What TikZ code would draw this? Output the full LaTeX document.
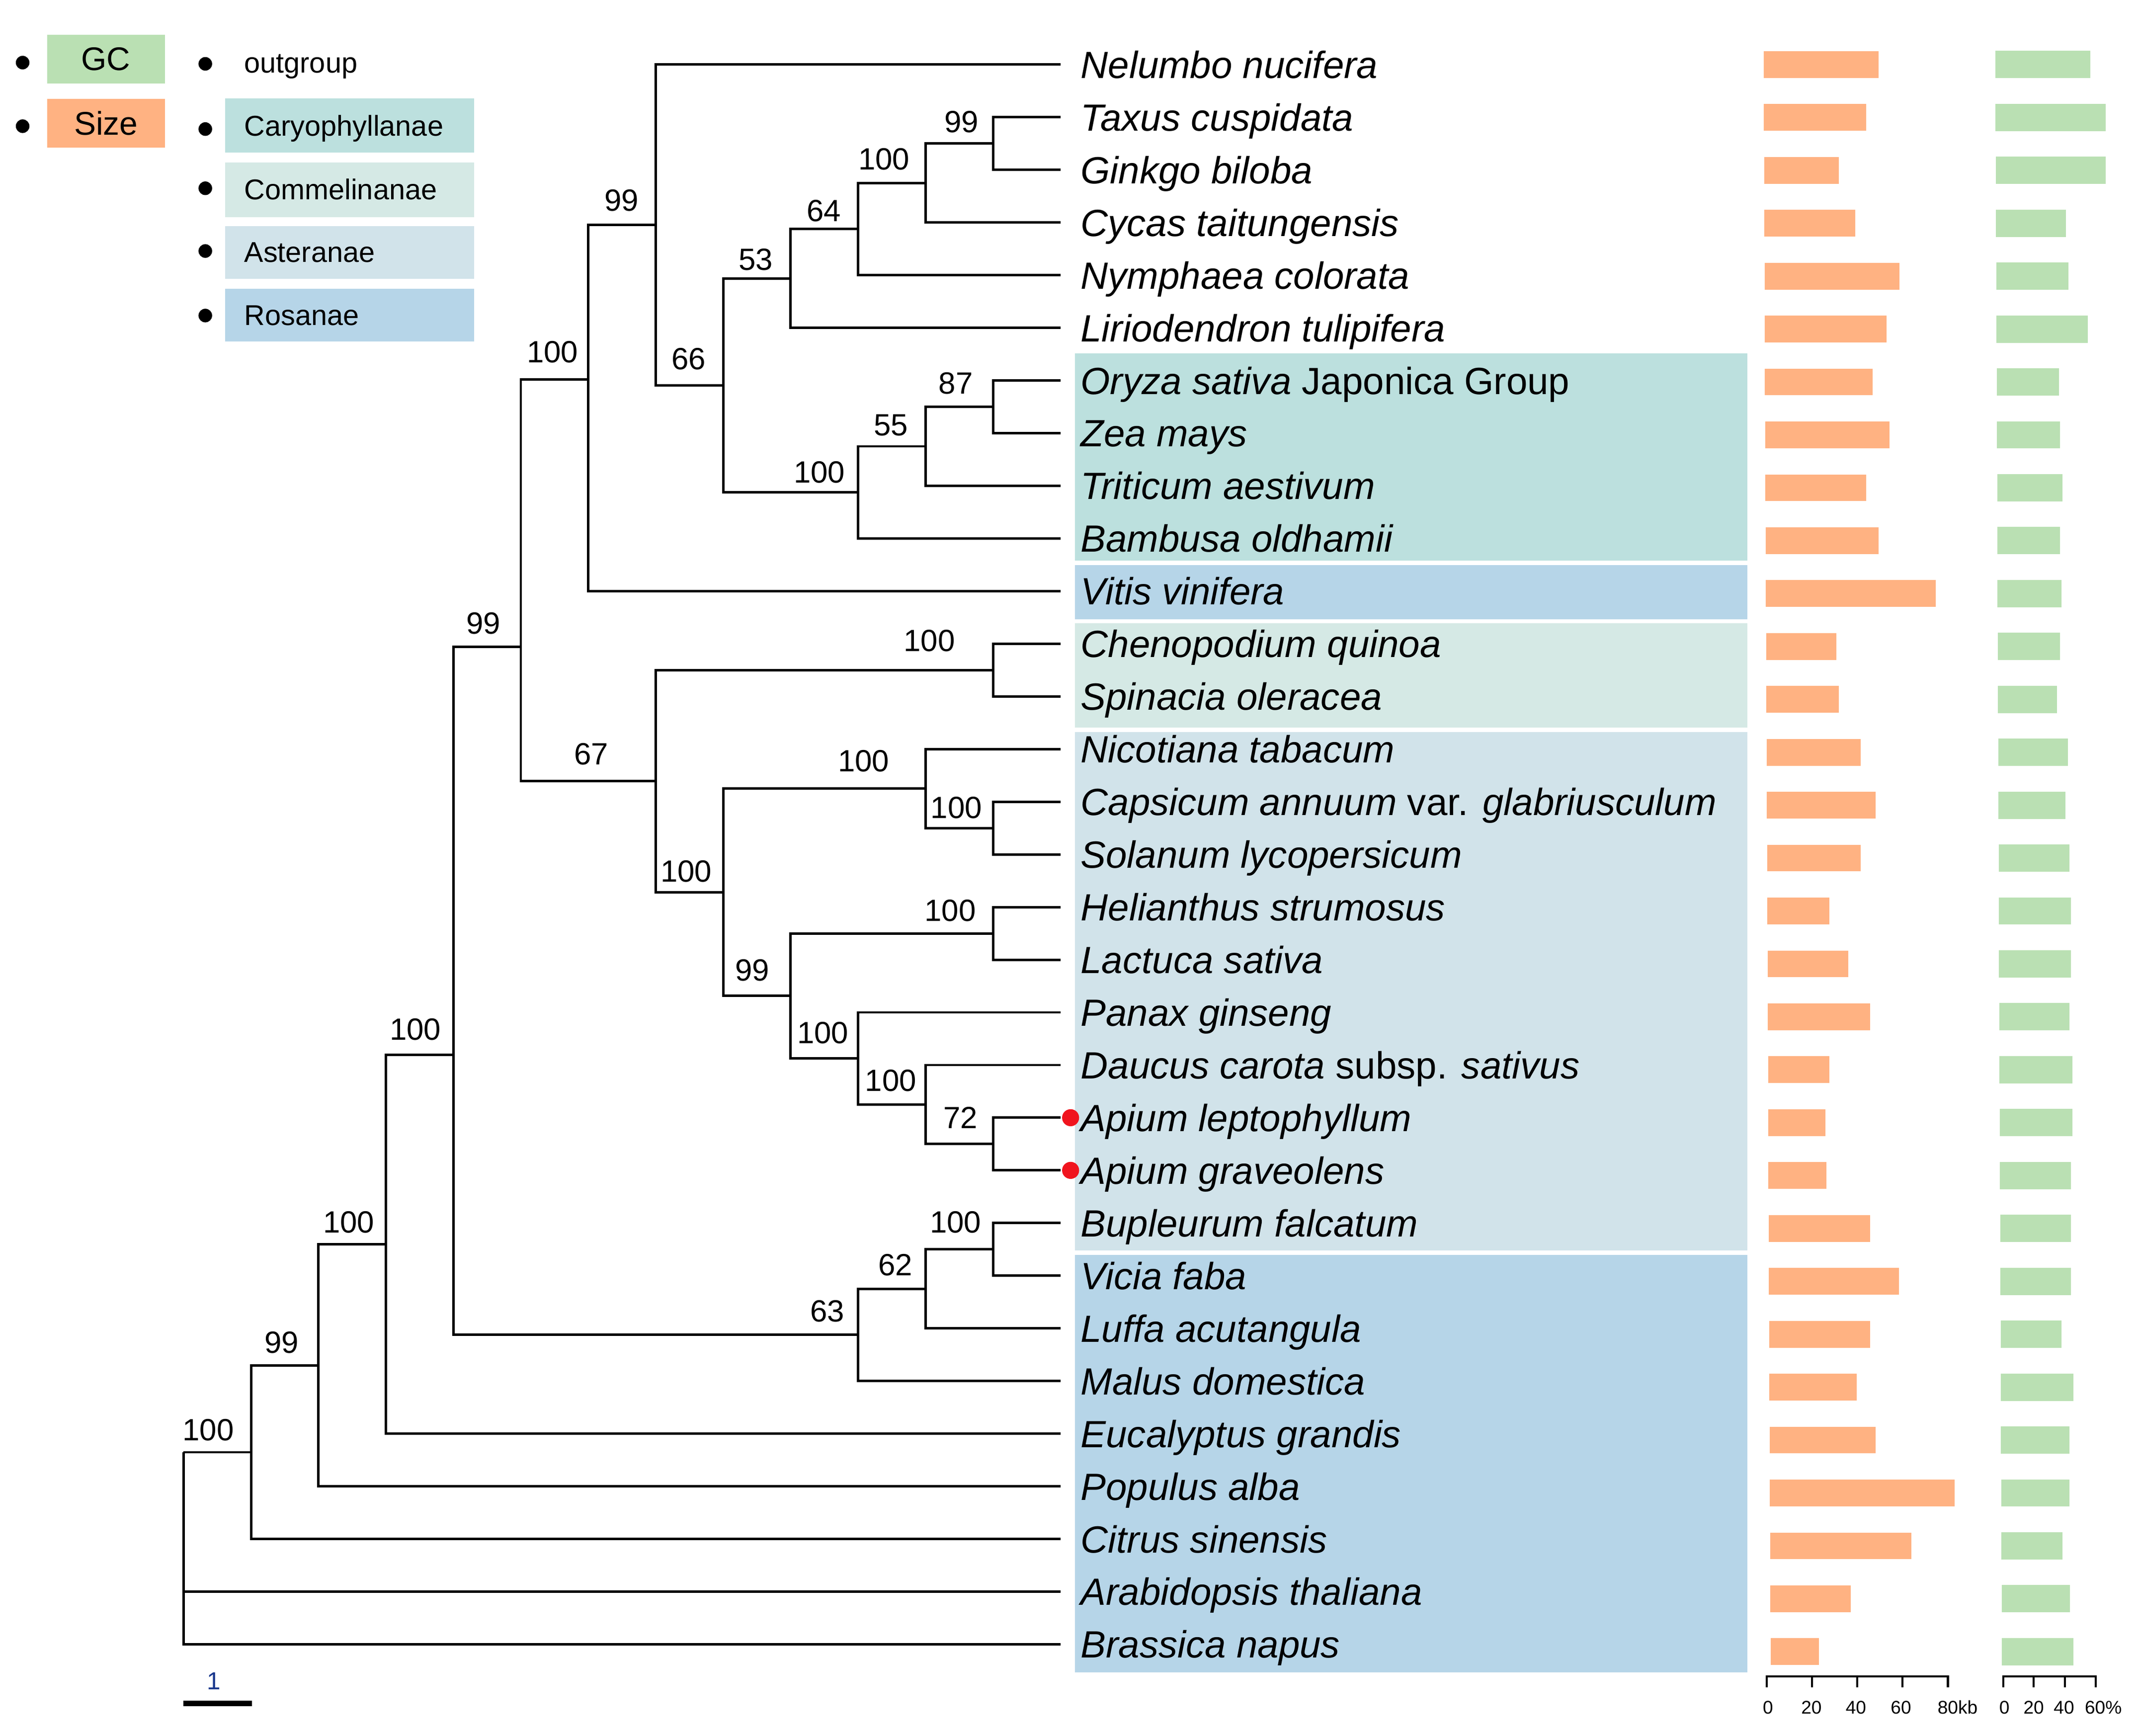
\documentclass[tikz,border=0pt]{standalone}
\usepackage{fontspec}
\setmainfont{Liberation Sans}
\definecolor{gcgreen}{RGB}{186,224,179}
\definecolor{sizeorange}{RGB}{255,178,130}
\definecolor{caryc}{RGB}{188,224,222}
\definecolor{commc}{RGB}{213,233,229}
\definecolor{asterc}{RGB}{209,227,234}
\definecolor{rosc}{RGB}{182,213,232}
\definecolor{dotred}{RGB}{240,20,30}
\definecolor{scaleblue}{RGB}{25,55,140}
\begin{document}
\begin{tikzpicture}[x=1pt,y=-1pt,
  branch/.style={line width=1.8pt, line join=miter, line cap=butt},
  taxon/.style={anchor=base west, inner sep=0pt, font=\fontsize{27.8}{30}\selectfont\itshape},
  boot/.style={anchor=base, inner sep=0pt, font=\fontsize{22.5}{24}\selectfont},
  legtext/.style={anchor=base west, inner sep=0pt, font=\fontsize{21}{23}\selectfont},
  bigleg/.style={inner sep=0pt, font=\fontsize{24}{26}\selectfont},
  bullet/.style={circle, fill=black, inner sep=0pt, minimum size=10pt},
  reddot/.style={circle, fill=dotred, inner sep=0pt, minimum size=12.5pt},
  axislbl/.style={anchor=base, inner sep=0pt, font=\fontsize{13.5}{15}\selectfont},
  axisline/.style={line width=1.5pt, line cap=butt, line join=miter}
]
\useasboundingbox (0,0) rectangle (1568,1272.2);

% ---------- legend ----------
\node[bullet] (bgc) at (16.6,45.9) {};
\node[bullet] (bsz) at (16.6,92.5) {};
\node[bigleg, fill=gcgreen, minimum width=86.3pt, minimum height=35.7pt] (gc) at (77.65,43.35) {GC};
\node[bigleg, fill=sizeorange, minimum width=86.3pt, minimum height=35.8pt] (sz) at (77.65,90.3) {Size};

\node[bullet] (bout) at (150.5,46.8) {};
\node[bullet] (bcar) at (150.5,94.6) {};
\node[bullet] (bcom) at (150.5,138) {};
\node[bullet] (bast) at (150.5,184) {};
\node[bullet] (bros) at (150.5,231.3) {};
\node[legtext] (tout) at (178.9,53.2) {outgroup};
\fill[caryc] (165,72.3) rectangle (347.7,112);
\fill[commc] (165,119.3) rectangle (347.7,159.2);
\fill[asterc] (165,165.6) rectangle (347.7,204.4);
\fill[rosc] (165,211.6) rectangle (347.7,250.4);
\node[legtext] (tcar) at (178.9,99.7) {Caryophyllanae};
\node[legtext] (tcom) at (178.9,146.3) {Commelinanae};
\node[legtext] (tast) at (178.9,192.2) {Asteranae};
\node[legtext] (tros) at (178.9,238.6) {Rosanae};

% ---------- clade bands ----------
\fill[caryc] (788,259) rectangle (1281,411);
\fill[rosc] (788,414.2) rectangle (1281,454);
\fill[commc] (788,457) rectangle (1281,533.3);
\fill[asterc] (788,536.6) rectangle (1281,916.5);
\fill[rosc] (788,920) rectangle (1281,1226);

% ---------- tips ----------
\foreach \i in {1,...,31}{
  \pgfmathsetmacro{\ty}{47.3+(\i-1)*38.6}
  \coordinate (t\i) at (777.4,\ty);
}

% ---------- internal nodes ----------
\coordinate (N0) at (134.5,1064.5);
\coordinate (N1) at (184,1064.5);
\coordinate (N2) at (233.4,1000.85);
\coordinate (N3) at (282.9,912.2);
\coordinate (N4) at (332.3,773.3);
\coordinate (N5) at (381.8,474.3);
\coordinate (N6) at (431.2,278);
\coordinate (N7) at (480.7,164.9);
\coordinate (N8) at (530.1,282.5);
\coordinate (N9) at (579.6,204.1);
\coordinate (N10) at (629,167.9);
\coordinate (N11) at (678.5,134.15);
\coordinate (N12) at (727.9,105.2);
\coordinate (NP) at (629,360.9);
\coordinate (NP2) at (678.5,327.15);
\coordinate (NP3) at (727.9,298.2);
\coordinate (NA) at (480.7,572.6);
\coordinate (NC) at (727.9,491.2);
\coordinate (NA2) at (530.1,654.05);
\coordinate (NS) at (678.5,578.05);
\coordinate (NS2) at (727.9,607);
\coordinate (NA3) at (579.6,730.05);
\coordinate (NH) at (727.9,684.2);
\coordinate (NAp) at (629,775.9);
\coordinate (NAp2) at (678.5,809.65);
\coordinate (NAp3) at (727.9,838.6);
\coordinate (NR) at (629,978.5);
\coordinate (NR2) at (678.5,944.75);
\coordinate (NB) at (727.9,915.8);

% ---------- branches ----------
\draw[branch] (N0) |- (N1);   \draw[branch] (N0) |- (t30);  \draw[branch] (N0) |- (t31);
\draw[branch] (N1) |- (N2);   \draw[branch] (N1) |- (t29);
\draw[branch] (N2) |- (N3);   \draw[branch] (N2) |- (t28);
\draw[branch] (N3) |- (N4);   \draw[branch] (N3) |- (t27);
\draw[branch] (N4) |- (N5);   \draw[branch] (N4) |- (NR);
\draw[branch] (N5) |- (N6);   \draw[branch] (N5) |- (NA);
\draw[branch] (N6) |- (N7);   \draw[branch] (N6) |- (t11);
\draw[branch] (N7) |- (t1);   \draw[branch] (N7) |- (N8);
\draw[branch] (N8) |- (N9);   \draw[branch] (N8) |- (NP);
\draw[branch] (N9) |- (N10);  \draw[branch] (N9) |- (t6);
\draw[branch] (N10) |- (N11); \draw[branch] (N10) |- (t5);
\draw[branch] (N11) |- (N12); \draw[branch] (N11) |- (t4);
\draw[branch] (N12) |- (t2);  \draw[branch] (N12) |- (t3);
\draw[branch] (NP) |- (NP2);  \draw[branch] (NP) |- (t10);
\draw[branch] (NP2) |- (NP3); \draw[branch] (NP2) |- (t9);
\draw[branch] (NP3) |- (t7);  \draw[branch] (NP3) |- (t8);
\draw[branch] (NA) |- (NC);   \draw[branch] (NA) |- (NA2);
\draw[branch] (NC) |- (t12);  \draw[branch] (NC) |- (t13);
\draw[branch] (NA2) |- (NS);  \draw[branch] (NA2) |- (NA3);
\draw[branch] (NS) |- (t14);  \draw[branch] (NS) |- (NS2);
\draw[branch] (NS2) |- (t15); \draw[branch] (NS2) |- (t16);
\draw[branch] (NA3) |- (NH);  \draw[branch] (NA3) |- (NAp);
\draw[branch] (NH) |- (t17);  \draw[branch] (NH) |- (t18);
\draw[branch] (NAp) |- (t19); \draw[branch] (NAp) |- (NAp2);
\draw[branch] (NAp2) |- (t20); \draw[branch] (NAp2) |- (NAp3);
\draw[branch] (NAp3) |- (t21); \draw[branch] (NAp3) |- (t22);
\draw[branch] (NR) |- (NR2);  \draw[branch] (NR) |- (t26);
\draw[branch] (NR2) |- (NB);  \draw[branch] (NR2) |- (t25);
\draw[branch] (NB) |- (t23);  \draw[branch] (NB) |- (t24);

% ---------- bootstrap values ----------
\node[boot] (b1) at (152.7,1055.8) {100};
\node[boot] (b2) at (206.4,991.9) {99};
\node[boot] (b3) at (255.6,903.7) {100};
\node[boot] (b4) at (304.5,762.3) {100};
\node[boot] (b5) at (354.4,464.6) {99};
\node[boot] (b6) at (405,265.8) {100};
\node[boot] (b7) at (455.6,154.6) {99};
\node[boot] (b8) at (504.8,270.9) {66};
\node[boot] (b9) at (554,198.1) {53};
\node[boot] (b10) at (603.9,162.3) {64};
\node[boot] (b11) at (648,124.5) {100};
\node[boot] (b12) at (704.9,97.1) {99};
\node[boot] (bP) at (600.6,354) {100};
\node[boot] (bP2) at (653,319.4) {55};
\node[boot] (bP3) at (700.6,288.8) {87};
\node[boot] (bA) at (433.3,560.4) {67};
\node[boot] (bC) at (681.2,477.4) {100};
\node[boot] (bA2) at (503,646.5) {100};
\node[boot] (bS) at (633,565.5) {100};
\node[boot] (bS2) at (701,600) {100};
\node[boot] (bA3) at (551.5,718.9) {99};
\node[boot] (bH) at (696.5,675.4) {100};
\node[boot] (bAp) at (603.2,764.9) {100};
\node[boot] (bAp2) at (653,800) {100};
\node[boot] (bAp3) at (704,827) {72};
\node[boot] (bB) at (700.4,903.7) {100};
\node[boot] (bR2) at (656.3,934.9) {62};
\node[boot] (bR) at (606.4,968.9) {63};

% ---------- red dots ----------
\node[reddot] (d21) at ([xshift=7.4pt]t21) {};
\node[reddot] (d22) at ([xshift=7.4pt]t22) {};

% ---------- taxon labels ----------
\node[taxon] (L1) at ([xshift=14.6pt,yshift=-10pt]t1) {Nelumbo nucifera};
\node[taxon] (L2) at ([xshift=14.6pt,yshift=-10pt]t2) {Taxus cuspidata};
\node[taxon] (L3) at ([xshift=14.6pt,yshift=-10pt]t3) {Ginkgo biloba};
\node[taxon] (L4) at ([xshift=14.6pt,yshift=-10pt]t4) {Cycas taitungensis};
\node[taxon] (L5) at ([xshift=14.6pt,yshift=-10pt]t5) {Nymphaea colorata};
\node[taxon] (L6) at ([xshift=14.6pt,yshift=-10pt]t6) {Liriodendron tulipifera};
\node[taxon] (L7) at ([xshift=14.6pt,yshift=-10pt]t7) {Oryza sativa {\upshape Japonica Group}};
\node[taxon] (L8) at ([xshift=14.6pt,yshift=-10pt]t8) {Zea mays};
\node[taxon] (L9) at ([xshift=14.6pt,yshift=-10pt]t9) {Triticum aestivum};
\node[taxon] (L10) at ([xshift=14.6pt,yshift=-10pt]t10) {Bambusa oldhamii};
\node[taxon] (L11) at ([xshift=14.6pt,yshift=-10pt]t11) {Vitis vinifera};
\node[taxon] (L12) at ([xshift=14.6pt,yshift=-10pt]t12) {Chenopodium quinoa};
\node[taxon] (L13) at ([xshift=14.6pt,yshift=-10pt]t13) {Spinacia oleracea};
\node[taxon] (L14) at ([xshift=14.6pt,yshift=-10pt]t14) {Nicotiana tabacum};
\node[taxon] (L15) at ([xshift=14.6pt,yshift=-10pt]t15) {Capsicum annuum {\upshape var.} glabriusculum};
\node[taxon] (L16) at ([xshift=14.6pt,yshift=-10pt]t16) {Solanum lycopersicum};
\node[taxon] (L17) at ([xshift=14.6pt,yshift=-10pt]t17) {Helianthus strumosus};
\node[taxon] (L18) at ([xshift=14.6pt,yshift=-10pt]t18) {Lactuca sativa};
\node[taxon] (L19) at ([xshift=14.6pt,yshift=-10pt]t19) {Panax ginseng};
\node[taxon] (L20) at ([xshift=14.6pt,yshift=-10pt]t20) {Daucus carota {\upshape subsp.} sativus};
\node[taxon] (L21) at ([xshift=14.6pt,yshift=-10pt]t21) {Apium leptophyllum};
\node[taxon] (L22) at ([xshift=14.6pt,yshift=-10pt]t22) {Apium graveolens};
\node[taxon] (L23) at ([xshift=14.6pt,yshift=-10pt]t23) {Bupleurum falcatum};
\node[taxon] (L24) at ([xshift=14.6pt,yshift=-10pt]t24) {Vicia faba};
\node[taxon] (L25) at ([xshift=14.6pt,yshift=-10pt]t25) {Luffa acutangula};
\node[taxon] (L26) at ([xshift=14.6pt,yshift=-10pt]t26) {Malus domestica};
\node[taxon] (L27) at ([xshift=14.6pt,yshift=-10pt]t27) {Eucalyptus grandis};
\node[taxon] (L28) at ([xshift=14.6pt,yshift=-10pt]t28) {Populus alba};
\node[taxon] (L29) at ([xshift=14.6pt,yshift=-10pt]t29) {Citrus sinensis};
\node[taxon] (L30) at ([xshift=14.6pt,yshift=-10pt]t30) {Arabidopsis thaliana};
\node[taxon] (L31) at ([xshift=14.6pt,yshift=-10pt]t31) {Brassica napus};

% ---------- bars ----------
\foreach \i/\o/\g in {1/1376.9/1532.2, 2/1367.9/1543.5, 3/1347.9/1543.5, 4/1360/1514.5,
  5/1392.2/1516.4, 6/1383/1530.6, 7/1372.8/1509.5, 8/1385/1510, 9/1368/1512, 10/1377/1510,
  11/1419/1511, 12/1346/1510, 13/1348/1508, 14/1364/1516, 15/1375/1514, 16/1364/1517,
  17/1341/1518, 18/1355/1518, 19/1371/1517, 20/1341/1519, 21/1338/1519, 22/1339/1518,
  23/1371/1518, 24/1392/1518, 25/1371/1511, 26/1361/1520, 27/1375/1517, 28/1433/1517,
  29/1401/1512, 30/1356.7/1517.3, 31/1333.5/1519.8}{
  \pgfmathsetmacro{\yc}{47.3+(\i-1)*38.78}
  \pgfmathsetmacro{\xo}{1292.8+0.17*(\i-1)}
  \pgfmathsetmacro{\xg}{1462.7+0.16*(\i-1)}
  \fill[sizeorange] (\xo,{\yc-9.8}) rectangle (\o,{\yc+9.8});
  \fill[gcgreen] (\xg,{\yc-10}) rectangle (\g,{\yc+10});
}

% ---------- axes ----------
\draw[axisline] (1295.2,1236.9) -- (1295.2,1228.7) -- (1427.9,1228.7) -- (1427.9,1236.9);
\foreach \x in {1328.3,1361.4,1394.7}{ \draw[axisline] (\x,1228.7) -- (\x,1236.9); }
\draw[axisline] (1468.4,1236.9) -- (1468.4,1228.7) -- (1536.2,1228.7) -- (1536.2,1236.9);
\foreach \x in {1490.8,1513.8}{ \draw[axisline] (\x,1228.7) -- (\x,1236.9); }
\node[axislbl] (a0) at (1296,1256.2) {0};
\node[axislbl] (a20) at (1327.9,1256.2) {20};
\node[axislbl] (a40) at (1360.5,1256.2) {40};
\node[axislbl] (a60) at (1393.5,1256.2) {60};
\node[axislbl] (a80) at (1427.9,1256.2) {80\rlap{kb}};
\node[axislbl] (g0) at (1469.3,1256.2) {0};
\node[axislbl] (g20) at (1490.8,1256.2) {20};
\node[axislbl] (g40) at (1513,1256.2) {40};
\node[axislbl] (g60) at (1535.8,1256.2) {60\rlap{\%}};

% ---------- scale bar ----------
\coordinate (sb1) at (134.4,1248.6);
\coordinate (sb2) at (184.8,1248.6);
\draw[line width=4pt] (sb1) -- (sb2);
\node[anchor=base, inner sep=0pt, text=scaleblue, font=\fontsize{18}{20}\selectfont] (sbl) at (156.9,1238.6) {1};
\end{tikzpicture}
\end{document}
